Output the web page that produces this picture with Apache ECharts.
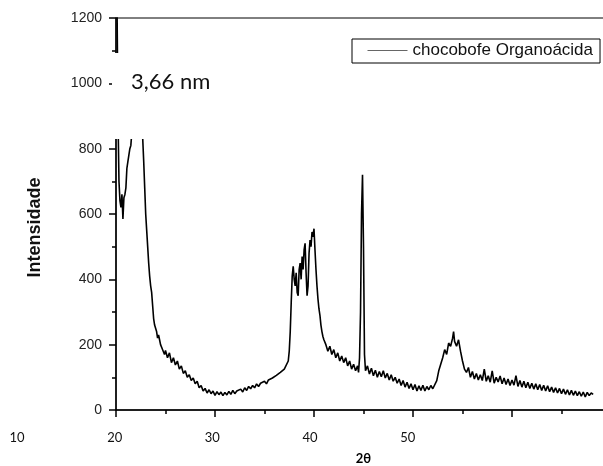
<!DOCTYPE html>
<html>
<head>
<meta charset="utf-8">
<script src="https://cdn.jsdelivr.net/npm/echarts@6/dist/echarts.min.js"></script>
<style>
html,body{margin:0;padding:0;background:#fff;}
#chart{width:603px;height:466px;}
</style>
</head>
<body>
<div id="chart"></div>
<script>
const seriesName = 'chocobofe Organoácida';
const xTickLabels = [10, 20, 30, 40, 50];
const yTickValues = [0, 200, 400, 600, 800, 1000, 1200];
const annotation = '3,66 nm';

const twoTheta = [
  20.0, 20.1, 20.2, 20.3, 20.4, 20.5, 20.6, 20.7, 20.8, 20.9,
  21.0, 21.1, 21.2, 21.3, 21.4, 21.5, 21.6, 21.7, 21.8, 22.0,
  22.2, 22.5, 22.7, 22.8, 22.9, 23.0, 23.1, 23.2, 23.3, 23.4,
  23.5, 23.6, 23.7, 23.8, 23.9, 24.0, 24.1, 24.2, 24.3, 24.4,
  24.5, 24.6, 24.7, 24.8, 24.9, 25.0, 25.2, 25.4, 25.6, 25.8,
  26.0, 26.2, 26.4, 26.6, 26.8, 27.0, 27.2, 27.4, 27.6, 27.8,
  28.0, 28.2, 28.4, 28.6, 28.8, 29.0, 29.2, 29.4, 29.6, 29.8,
  30.0, 30.2, 30.4, 30.6, 30.8, 31.0, 31.2, 31.4, 31.6, 31.8,
  32.0, 32.2, 32.4, 32.6, 32.8, 33.0, 33.2, 33.4, 33.6, 33.8,
  34.0, 34.2, 34.4, 34.6, 34.8, 35.0, 35.2, 35.4, 35.6, 35.8,
  36.0, 36.2, 36.4, 36.6, 36.8, 37.0, 37.2, 37.4, 37.5, 37.6,
  37.7, 37.8, 37.9, 38.0, 38.1, 38.2, 38.3, 38.4, 38.5, 38.6,
  38.7, 38.8, 38.9, 39.0, 39.1, 39.2, 39.3, 39.4, 39.5, 39.6,
  39.7, 39.8, 39.9, 40.0, 40.1, 40.2, 40.3, 40.4, 40.5, 40.6,
  40.7, 40.8, 40.9, 41.0, 41.2, 41.4, 41.6, 41.8, 42.0, 42.2,
  42.4, 42.6, 42.8, 43.0, 43.2, 43.4, 43.6, 43.8, 44.0, 44.2,
  44.4, 44.5, 44.6, 44.7, 44.8, 44.9, 45.0, 45.1, 45.2, 45.4,
  45.6, 45.8, 46.0, 46.2, 46.4, 46.6, 46.8, 47.0, 47.2, 47.4,
  47.6, 47.8, 48.0, 48.2, 48.4, 48.6, 48.8, 49.0, 49.2, 49.4,
  49.6, 49.8, 50.0, 50.2, 50.4, 50.6, 50.8, 51.0, 51.2, 51.4,
  51.6, 51.8, 52.0, 52.2, 52.4, 52.6, 52.8, 53.0, 53.2, 53.4,
  53.6, 53.8, 54.0, 54.1, 54.2, 54.4, 54.6, 54.8, 55.0, 55.2,
  55.4, 55.6, 55.8, 56.0, 56.2, 56.4, 56.6, 56.8, 57.0, 57.2,
  57.4, 57.6, 57.8, 58.0, 58.2, 58.4, 58.6, 58.8, 59.0, 59.2,
  59.4, 59.6, 59.8, 60.0, 60.2, 60.4, 60.6, 60.8, 61.0, 61.2,
  61.4, 61.6, 61.8, 62.0, 62.2, 62.4, 62.6, 62.8, 63.0, 63.2,
  63.4, 63.6, 63.8, 64.0, 64.2, 64.4, 64.6, 64.8, 65.0, 65.2,
  65.4, 65.6, 65.8, 66.0, 66.2, 66.4, 66.6, 66.8, 67.0, 67.2,
  67.4, 67.6, 67.8, 68.0, 68.2
];

const intensity = [
  1300, 1250, 900, 700, 640, 620, 660, 585, 650, 660,
  680, 740, 760, 780, 800, 810, 850, 900, 1000, 1050,
  1000, 950, 830, 760, 680, 600, 550, 500, 450, 410,
  380, 360, 320, 280, 260, 250, 240, 220, 230, 215,
  200, 205, 185, 190, 170, 182, 160, 175, 145, 160,
  138, 150, 125, 135, 112, 120, 100, 108, 90, 98,
  80, 88, 68, 75, 58, 66, 52, 62, 50, 58,
  45, 56, 47, 55, 44, 54, 46, 57, 48, 60,
  50, 58, 52, 64, 55, 68, 60, 72, 65, 75,
  68, 80, 72, 82, 76, 88, 80, 92, 86, 98,
  92, 106, 100, 115, 110, 125, 130, 150, 180, 240,
  330, 410, 440, 400, 380, 420, 360, 350, 430, 450,
  400, 470, 430, 490, 510, 420, 350, 380, 480, 520,
  500, 545, 530, 555, 490, 430, 380, 340, 310, 290,
  260, 240, 225, 215, 200, 180, 195, 170, 185, 160,
  175, 150, 165, 145, 160, 135, 150, 125, 140, 120,
  135, 115, 160, 300, 600, 720, 500, 170, 120, 135,
  110, 128, 105, 122, 100, 118, 102, 120, 98, 112,
  92, 108, 88, 100, 82, 95, 75, 90, 70, 85,
  66, 80, 62, 78, 58, 74, 60, 76, 58, 72,
  62, 75, 65, 70, 90, 120, 140, 160, 185, 170,
  205, 195, 220, 240, 210, 195, 215, 180, 150, 125,
  115, 130, 100, 118, 95, 112, 92, 108, 90, 125,
  88, 105, 85, 120, 82, 100, 86, 104, 80, 98,
  78, 95, 75, 92, 76, 105, 72, 90, 70, 88,
  68, 85, 66, 82, 64, 80, 62, 78, 60, 76,
  58, 74, 56, 70, 54, 68, 52, 66, 50, 64,
  48, 62, 46, 60, 45, 58, 44, 56, 42, 55,
  40, 54, 44, 52, 48
];

const seriesData = twoTheta.map((t, i) => [t, intensity[i]]);

const chart = echarts.init(document.getElementById('chart'), null, {renderer: 'canvas'});
chart.setOption({
  animation: false,
  backgroundColor: '#fff',
  grid: [
    {left: 116, width: 495, top: 18, bottom: 56, show: true, borderColor: '#000', borderWidth: 1,
     backgroundColor: 'transparent', outerBoundsMode: 'none', containLabel: false},
    {left: 17, width: 586, top: 18, bottom: 56, show: false, outerBoundsMode: 'none', containLabel: false}
  ],
  legend: {
    show: true,
    left: 352, top: 39,
    padding: [3, 7, 4, 15],
    itemWidth: 40, itemHeight: 14,
    borderColor: '#000', borderWidth: 1,
    textStyle: {fontFamily: 'Liberation Sans', fontSize: 17, color: '#111'},
    itemStyle: {opacity: 0},
    lineStyle: {color: '#666', width: 1},
    data: [seriesName]
  },
  xAxis: [
    {
      type: 'value', gridIndex: 0, min: 20, max: 70, interval: 10,
      name: '2θ', nameLocation: 'middle', nameGap: 42,
      nameTextStyle: {fontFamily: 'Lato', fontWeight: 'bold', fontSize: 13, color: '#000'},
      axisLine: {show: true, onZero: false, lineStyle: {color: '#000', width: 1.5}},
      axisTick: {show: true, length: 7, lineStyle: {color: '#000', width: 1.5}},
      minorTick: {show: true, splitNumber: 2, length: 4, lineStyle: {color: '#000', width: 1.5}},
      axisLabel: {show: false},
      splitLine: {show: false}
    },
    {
      type: 'value', gridIndex: 1, min: 10, max: 70, interval: 10,
      axisLine: {show: false}, axisTick: {show: false}, splitLine: {show: false},
      axisLabel: {
        show: true, margin: 21,
        fontFamily: 'Lato', fontSize: 13, color: '#111',
        formatter: v => xTickLabels.includes(v) ? String(v) : ''
      }
    }
  ],
  yAxis: [
    {
      type: 'value', gridIndex: 0, min: 0, max: 1200, interval: 200,
      name: 'Intensidade', nameLocation: 'middle', nameGap: 72,
      nameTextStyle: {fontFamily: 'Liberation Sans', fontWeight: 'bold', fontSize: 18, color: '#111', padding: [0, 27, 0, 0]},
      axisLine: {show: true, onZero: false, lineStyle: {color: '#000', width: 1.5}},
      axisTick: {show: true, length: 7, lineStyle: {color: '#000', width: 1.5}},
      minorTick: {show: true, splitNumber: 2, length: 4, lineStyle: {color: '#000', width: 1.5}},
      axisLabel: {
        margin: 14, fontFamily: 'Liberation Sans', fontSize: 14, color: '#222',
        formatter: v => yTickValues.includes(v) ? String(v) : ''
      },
      splitLine: {show: false}
    },
    {type: 'value', gridIndex: 1, show: false, min: 0, max: 1200}
  ],
  series: [
    {
      name: seriesName,
      type: 'line',
      xAxisIndex: 0, yAxisIndex: 0,
      data: seriesData,
      showSymbol: false, symbol: 'none',
      clip: true,
      lineStyle: {color: '#000', width: 1.6},
      itemStyle: {color: '#000'},
      z: 3
    }
  ],
  graphic: [
    {type: 'rect', z: 100, shape: {x: 112, y: 53, width: 238, height: 86}, style: {fill: '#fff'}},
    {type: 'text', z: 101, style: {text: annotation, x: 131, y: 71, font: '22px Lato', fill: '#111'}}
  ]
});
</script>
</body>
</html>
